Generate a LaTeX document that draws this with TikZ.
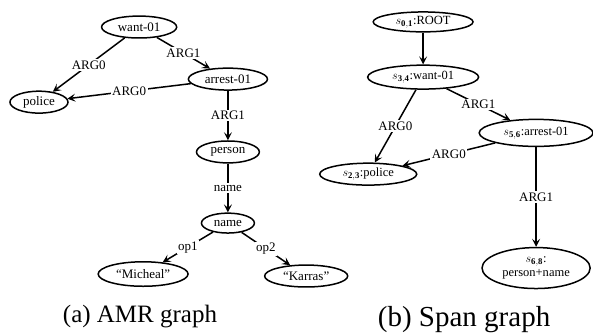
\documentclass[tikz,border=0pt]{standalone}
\usepackage{amsmath,amssymb,bm}
\usepackage{fontspec}
\setmainfont{Liberation Serif}
\usepackage{tikz}
\usetikzlibrary{arrows.meta, shapes.geometric, positioning}

\begin{document}
\begin{tikzpicture}[->,>={Stealth[length=8pt,width=8pt,inset=3.5pt]},line width=1.5pt]
    \tikzstyle{concept}=[shape=ellipse, fill=none, draw=black, text=black, inner sep=0pt, minimum height=0.77cm]
    \tikzstyle{lbl}=[fill=white, draw=none, text=black, inner sep=1.5pt]
    \tikzstyle{every node}=[font=\rmfamily\fontsize{13}{14}\selectfont]
    \tikzstyle{span}=[font=\rmfamily\fontsize{12.5}{14}\selectfont]
    \tikzstyle{caption}=[font=\rmfamily\fontsize{25}{28}\selectfont]

    \useasboundingbox (0,0) rectangle (20.84,-11.78);

    % (a) AMR graph
    \node[concept, minimum width=2.64cm]  (want)    at (4.89,-0.95)  {want-01};
    \node[concept, minimum width=2.04cm]  (police)  at (1.37,-3.59)  {police};
    \node[concept, minimum width=2.78cm]  (arrest)  at (8.01,-2.78)  {arrest-01};
    \node[concept, minimum width=2.21cm]  (person)  at (8.01,-5.34)  {person};
    \node[concept, minimum width=1.86cm, minimum height=0.70cm]  (name) at (8.01,-7.84) {name};
    \node[concept, minimum width=3.16cm, minimum height=0.86cm]  (micheal) at (5.03,-9.63) {``Micheal''};
    \node[concept, minimum width=2.92cm]  (karras)  at (10.76,-9.70) {``Karras''};
    \node[caption] (capa) at (4.92,-11.11) {(a) AMR graph};

    \path
    (want)    edge   node[lbl]{ARG0} (police)
    (want)    edge   node[lbl]{ARG1} (arrest)
    (arrest)  edge   node[lbl]{ARG0} (police)
    (arrest)  edge   node[lbl]{ARG1} (person)
    (person)  edge   node[lbl]{name} (name)
    (name)    edge   node[lbl]{op1}  (micheal)
    (name)    edge   node[lbl]{op2}  (karras)
            ;

    % (b) Span graph
    \node[concept, span, minimum width=3.51cm, minimum height=0.70cm] (root)    at (14.87,-0.77) {$s_{\mathbf{0,1}}$:ROOT};
    \node[concept, span, minimum width=3.90cm, minimum height=0.84cm] (want2)   at (14.87,-2.71) {$s_{\mathbf{3,4}}$:want-01};
    \node[concept, span, minimum width=4.00cm, minimum height=0.95cm] (arrest2) at (18.84,-4.67) {$s_{\mathbf{5,6}}$:arrest-01};
    \node[concept, span, minimum width=3.41cm] (police2) at (12.94,-6.12) {$s_{\mathbf{2,3}}$:police};
    \node[concept, span, minimum width=3.80cm, minimum height=1.44cm, align=center] (pn) at (18.84,-9.42) {$s_{\mathbf{6,8}}$:\\person+name};
    \node[caption, font=\rmfamily\fontsize{29}{32}\selectfont] (capb) at (16.31,-11.22) {(b) Span graph};

    \path
    (root)    edge   (want2)
    (want2)   edge   node[lbl]{ARG0} (police2)
    (want2)   edge   node[lbl]{ARG1} (arrest2)
    (arrest2) edge   node[lbl]{ARG0} (police2)
    (arrest2) edge   node[lbl]{ARG1} (pn)
            ;

\end{tikzpicture}
\end{document}
